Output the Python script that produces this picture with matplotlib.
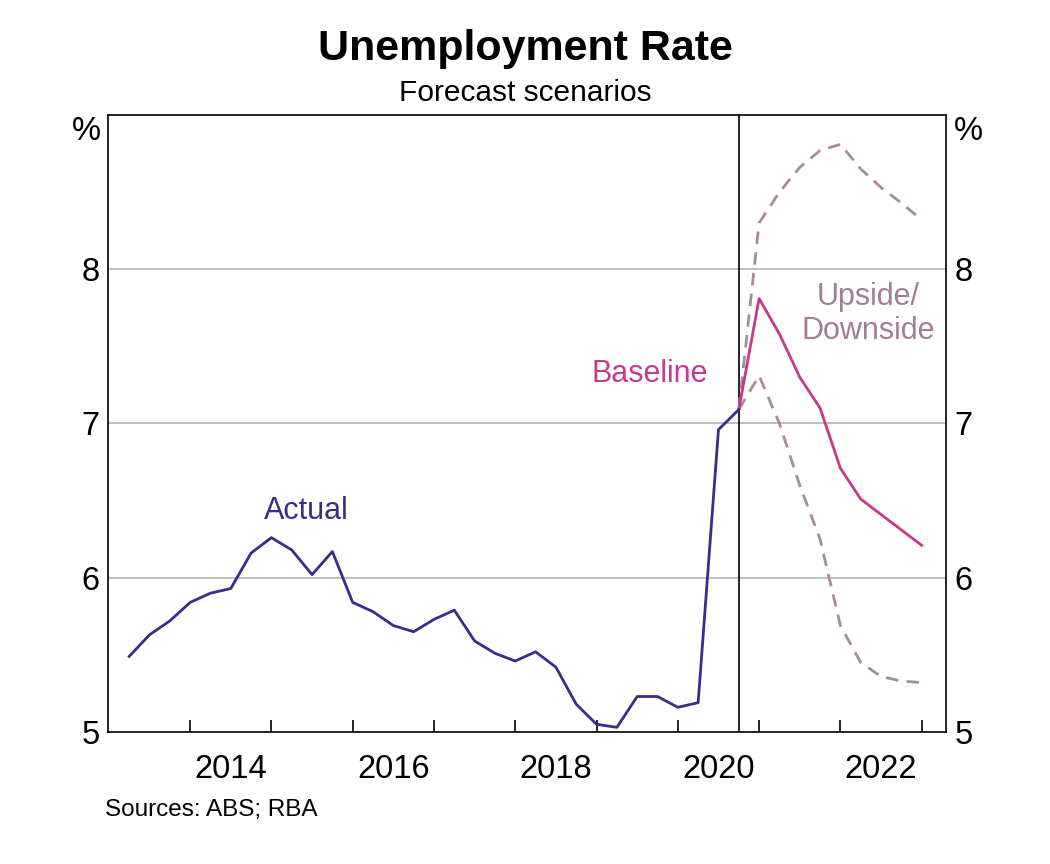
import numpy as np
import matplotlib
matplotlib.use("Agg")
import matplotlib.pyplot as plt
import matplotlib.transforms as mtrans

plt.rcParams['font.family'] = ['Liberation Sans', 'DejaVu Sans']

# quarter-end months, plotted at year + month/12
actual_q = ["2013-03", "2013-06", "2013-09", "2013-12", "2014-03", "2014-06", "2014-09", "2014-12",
            "2015-03", "2015-06", "2015-09", "2015-12", "2016-03", "2016-06", "2016-09", "2016-12",
            "2017-03", "2017-06", "2017-09", "2017-12", "2018-03", "2018-06", "2018-09", "2018-12",
            "2019-03", "2019-06", "2019-09", "2019-12", "2020-03", "2020-06", "2020-09"]
actual = [5.49, 5.63, 5.72, 5.84, 5.90, 5.93, 6.16, 6.26,
          6.18, 6.02, 6.17, 5.84, 5.78, 5.69, 5.65, 5.73,
          5.79, 5.59, 5.51, 5.46, 5.52, 5.42, 5.18, 5.05,
          5.03, 5.23, 5.23, 5.16, 5.19, 6.96, 7.09]

fcast_q = ["2020-09", "2020-12", "2021-03", "2021-06", "2021-09", "2021-12",
           "2022-03", "2022-06", "2022-09", "2022-12"]
baseline = [7.09, 7.81, 7.58, 7.30, 7.10, 6.71, 6.51, 6.41, 6.31, 6.21]
upside = [7.09, 8.30, 8.50, 8.66, 8.77, 8.81, 8.65, 8.53, 8.43, 8.32]
downside = [7.09, 7.31, 7.00, 6.60, 6.25, 5.69, 5.45, 5.36, 5.33, 5.32]

year_ticks = list(range(2014, 2024))
year_labels = ["2014", "2016", "2018", "2020", "2022"]
y_ticks = [5, 6, 7, 8]


def to_year(q):
    y, m = q.split("-")
    return int(y) + int(m) / 12.0


xa = [to_year(q) for q in actual_q]
xf = [to_year(q) for q in fcast_q]

c_actual = "#3d2b8a"
c_base = "#c63a8a"
c_scen = "#a98a9d"

fig = plt.figure(figsize=(10.5, 8.64), dpi=100)
ax = fig.add_axes([0.1029, 0.1528, 0.7981, 0.7141])

for g in [6, 7, 8]:
    ax.axhline(g, color="#b3b3b3", lw=1.2, zorder=1)
ax.axvline(xa[-1], color="black", lw=1.2, zorder=2)

ax.plot(xf, upside, color=c_scen, lw=2.0, ls=(0, (4.5, 3)), zorder=3)
ax.plot(xf, downside, color=c_scen, lw=2.0, ls=(0, (4.5, 3)), zorder=3)
ax.plot(xf, baseline, color=c_base, lw=2.0, zorder=4)
ax.plot(xa, actual, color=c_actual, lw=2.0, zorder=5)

ax.set_xlim(2012.99, 2023.3)
ax.set_ylim(5, 9)

# year boundary ticks (no labels), labels centred on even years
ax.set_xticks(year_ticks)
ax.set_xticklabels([])
ax.set_xticks([int(s) + 0.5 for s in year_labels], minor=True)
ax.set_xticklabels(year_labels, minor=True)
ax.tick_params(axis="x", which="major", direction="in", length=8.5, width=1.2, color="black")
ax.tick_params(axis="x", which="minor", length=0, labelsize=23.5, pad=16)

ax.set_yticks(y_ticks)
ax.set_yticklabels([str(v) for v in y_ticks])
ax.tick_params(axis="y", length=0, labelsize=23.5, pad=6, left=True, right=True,
               labelleft=True, labelright=True)

for s in ax.spines.values():
    s.set_linewidth(1.2)
    s.set_color("black")

# "%" unit markers at top of both y axes
trans_l = mtrans.blended_transform_factory(ax.transAxes, ax.transData)
ax.text(-0.009, 8.995, "%", transform=trans_l, ha="right", va="top", fontsize=23.5)
ax.text(1.009, 8.995, "%", transform=trans_l, ha="left", va="top", fontsize=23.5)

ax.text(2015.43, 6.43, "Actual", color=c_actual, fontsize=22, ha="center", va="center")
ax.text(2019.65, 7.32, "Baseline", color=c_base, fontsize=22, ha="center", va="center")
ax.text(2022.34, 7.71, "Upside/\nDownside", color="#a27e95", fontsize=22, ha="center",
        va="center", linespacing=1.15)

fig.text(0.5, 0.943, "Unemployment Rate", ha="center", va="center", fontsize=31,
         fontweight="bold")
fig.text(0.5, 0.892, "Forecast scenarios", ha="center", va="center", fontsize=21.5)
fig.text(0.1, 0.062, "Sources: ABS; RBA", ha="left", va="center", fontsize=17.5)

fig.savefig("out.png", dpi=100)
